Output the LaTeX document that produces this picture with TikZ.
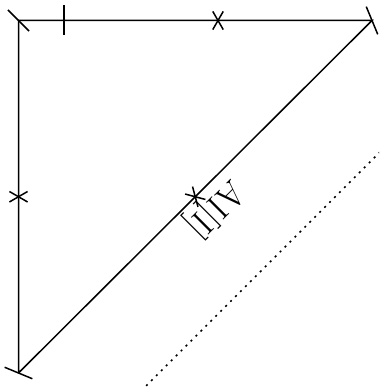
\documentclass[tikz,border=0pt]{standalone}
\usepackage{tikz}
\usepackage{xcolor}
\usetikzlibrary{calc}

\tikzset{
  edge/.style={line width=1.5pt},
  nullray/.style={line width=1.5pt, dash pattern=on 2pt off 5pt},
  axislabel/.style={font=\fontsize{36}{40}\selectfont, inner sep=0pt, rotate=225}
}

\begin{document}
\begin{tikzpicture}[x=1pt, y=1pt]
  \useasboundingbox (0,0) rectangle (379,387);
  \coordinate (tl) at (18.5,366.5);
  \coordinate (tr) at (372,366.5);
  \coordinate (bl) at (18.5,14);
  \coordinate (tbar) at (64,366.5);
  \coordinate (tcross) at (218,366.5);
  \coordinate (lcross) at ($(tl)!0.5!(bl)$);
  \coordinate (dcross) at ($(bl)!0.5!(tr)$);
  \coordinate (ray0) at (400,255);
  \coordinate (ray1) at (125,-20);

  \draw[edge] (bl) -- (tl) -- (tr) -- (bl);
  \begin{scope}
    \clip (0,0) rectangle (379,387);
    \draw[nullray] (ray0) -- (ray1);
  \end{scope}

  \draw[edge] (tl) ++(135:15) -- ++(-45:30);
  \draw[edge] (tr) ++(112.5:15) -- ++(-67.5:30);
  \draw[edge] (bl) ++(157.5:15) -- ++(-22.5:30);
  \draw[edge] (tbar) ++(90:15) -- ++(-90:30);
  \draw[edge] (tcross) ++(60:10.5) -- ++(240:21);
  \draw[edge] (tcross) ++(120:10.5) -- ++(300:21);
  \draw[edge] (lcross) ++(30:10.5) -- ++(210:21);
  \draw[edge] (lcross) ++(-30:10.5) -- ++(150:21);
  \draw[edge] (dcross) ++(165:10.5) -- ++(-15:21);
  \draw[edge] (dcross) ++(105:10.5) -- ++(-75:21);

  \node[axislabel] (scri) at (214,179) {AI[I]};
\end{tikzpicture}
\end{document}
